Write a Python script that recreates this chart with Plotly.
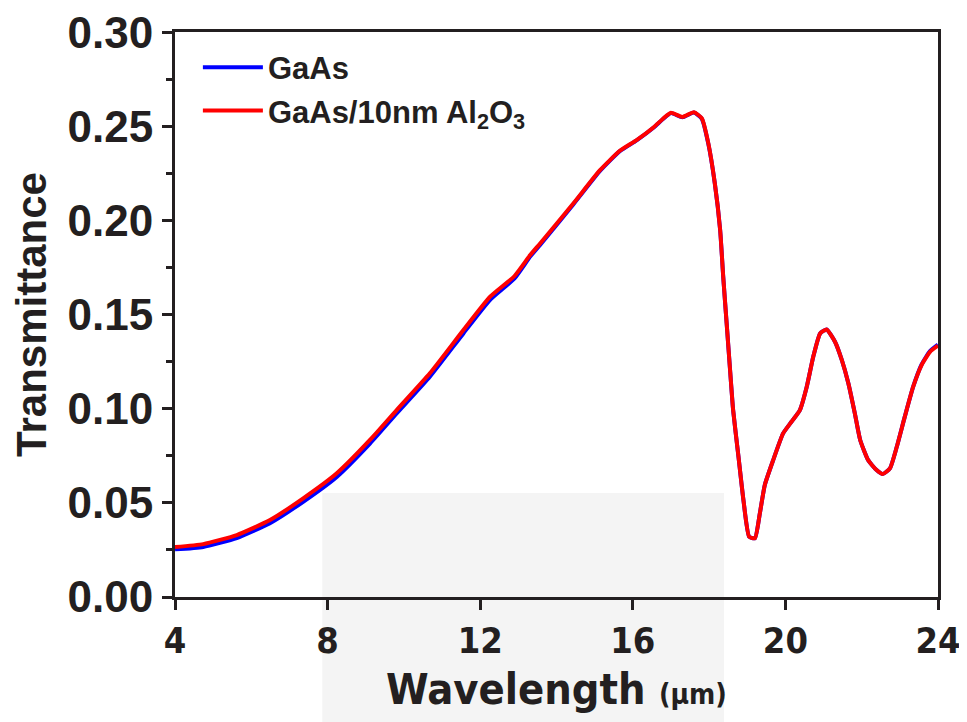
import plotly.graph_objects as go

wavelength = [4.0, 4.74, 5.62, 6.49, 7.36, 8.24, 9.11, 9.81, 10.68, 11.56, 12.26, 12.9, 13.31, 13.57,
              14.44, 15.14, 15.66, 16.1, 16.54, 16.8, 17.0, 17.3, 17.6, 17.81, 17.98, 18.15, 18.29,
              18.37, 18.46, 18.55, 18.63, 18.77, 18.9, 19.05, 19.2, 19.33, 19.46, 19.68, 19.94,
              20.16, 20.38, 20.56, 20.73, 20.91, 21.08, 21.3, 21.48, 21.65, 21.82, 21.96, 22.17,
              22.39, 22.55, 22.74, 22.92, 23.13, 23.35, 23.57, 23.79, 24.0]

t_gaas_al2o3 = [0.0265, 0.0281, 0.0329, 0.0409, 0.0524, 0.0657, 0.0834, 0.0993, 0.1188, 0.1418,
                0.1595, 0.1705, 0.1816, 0.1878, 0.2090, 0.2267, 0.2370, 0.2427, 0.2494, 0.2542,
                0.2572, 0.2550, 0.2575, 0.2542, 0.2409, 0.2197, 0.1949, 0.1701, 0.1453, 0.1205,
                0.0993, 0.0745, 0.0515, 0.0320, 0.0312, 0.0444, 0.0595, 0.0727, 0.0869, 0.0931,
                0.0993, 0.1117, 0.1276, 0.1400, 0.1421, 0.1356, 0.1258, 0.1135, 0.0975, 0.0834,
                0.0727, 0.0674, 0.0653, 0.0683, 0.0798, 0.0958, 0.1117, 0.1232, 0.1302, 0.1335]

t_gaas = [0.0253, 0.0266, 0.0313, 0.0392, 0.0506, 0.0638, 0.0815, 0.0975, 0.1170, 0.1400,
          0.1578, 0.1692, 0.1808, 0.1870, 0.2085, 0.2263, 0.2368, 0.2425, 0.2492, 0.2540,
          0.2570, 0.2548, 0.2573, 0.2540, 0.2407, 0.2197, 0.1949, 0.1701, 0.1453, 0.1205,
          0.0993, 0.0745, 0.0515, 0.0320, 0.0312, 0.0444, 0.0595, 0.0727, 0.0869, 0.0931,
          0.0993, 0.1117, 0.1276, 0.1400, 0.1421, 0.1356, 0.1258, 0.1135, 0.0975, 0.0834,
          0.0727, 0.0674, 0.0653, 0.0683, 0.0798, 0.0958, 0.1117, 0.1235, 0.1306, 0.1340]

x_ticks = [4, 8, 12, 16, 20, 24]
y_ticks = [0.00, 0.05, 0.10, 0.15, 0.20, 0.25, 0.30]
y_tick_text = ["0.00", "0.05", "0.10", "0.15", "0.20", "0.25", "0.30"]
y_minor = [0.025, 0.075, 0.125, 0.175, 0.225, 0.275]

ink = "#231f20"
bold_font = "Liberation Sans, Arial, sans-serif"
narrow_font = "DejaVu Sans Condensed, sans-serif"

fig = go.Figure()
fig.add_trace(go.Scatter(x=wavelength, y=t_gaas, mode="lines", name="GaAs",
                         line=dict(color="#0000ff", width=4, shape="spline", smoothing=0.5)))
fig.add_trace(go.Scatter(x=wavelength, y=t_gaas_al2o3, mode="lines",
                         name="GaAs/10nm Al<sub>2</sub>O<sub>3</sub>",
                         line=dict(color="#ff0000", width=4, shape="spline", smoothing=0.5)))

# faint watermark background
fig.add_shape(type="rect", xref="paper", yref="paper", x0=0.193, x1=0.7195, y0=-0.25, y1=0.184,
              fillcolor="#f4f4f4", line=dict(width=0), layer="below")

fig.update_layout(
    width=967, height=722,
    margin=dict(l=167, r=37, t=24, b=133, autoexpand=False),
    paper_bgcolor="white", plot_bgcolor="white",
    font=dict(family=bold_font, color=ink),
    showlegend=True,
    legend=dict(x=0.03, y=0.985, xanchor="left", yanchor="top",
                bgcolor="rgba(0,0,0,0)", borderwidth=0,
                font=dict(family=bold_font, size=31, color=ink, weight="bold"),
                itemwidth=60, tracegroupgap=2),
    xaxis=dict(range=[4, 24], tickvals=x_ticks, ticktext=[str(v) for v in x_ticks],
               showgrid=False, zeroline=False, automargin=False, ticklabeloverflow="allow",
               showline=True, linecolor=ink, linewidth=3, mirror=True,
               ticks="outside", ticklen=10, tickwidth=3, tickcolor=ink,
               tickfont=dict(family=narrow_font, size=36, color=ink, weight="bold"),
               title=dict(text="Wavelength <span style='font-size:28px'>(μm)</span>",
                          font=dict(family=narrow_font, size=43, color=ink, weight="bold"),
                          standoff=14)),
    yaxis=dict(range=[0, 0.3001], tickvals=y_ticks, ticktext=y_tick_text,
               showgrid=False, zeroline=False, automargin=False, ticklabeloverflow="allow",
               showline=True, linecolor=ink, linewidth=3, mirror=True,
               ticks="outside", ticklen=10, tickwidth=3, tickcolor=ink,
               minor=dict(tickvals=y_minor,
                          ticks="outside", ticklen=6, tickwidth=3, tickcolor=ink),
               tickfont=dict(family=bold_font, size=44, color=ink, weight="bold"),
               title=dict(text="Transmittance",
                          font=dict(family=bold_font, size=42, color=ink, weight="bold"),
                          standoff=16)),
)

fig.write_html("out.html")
